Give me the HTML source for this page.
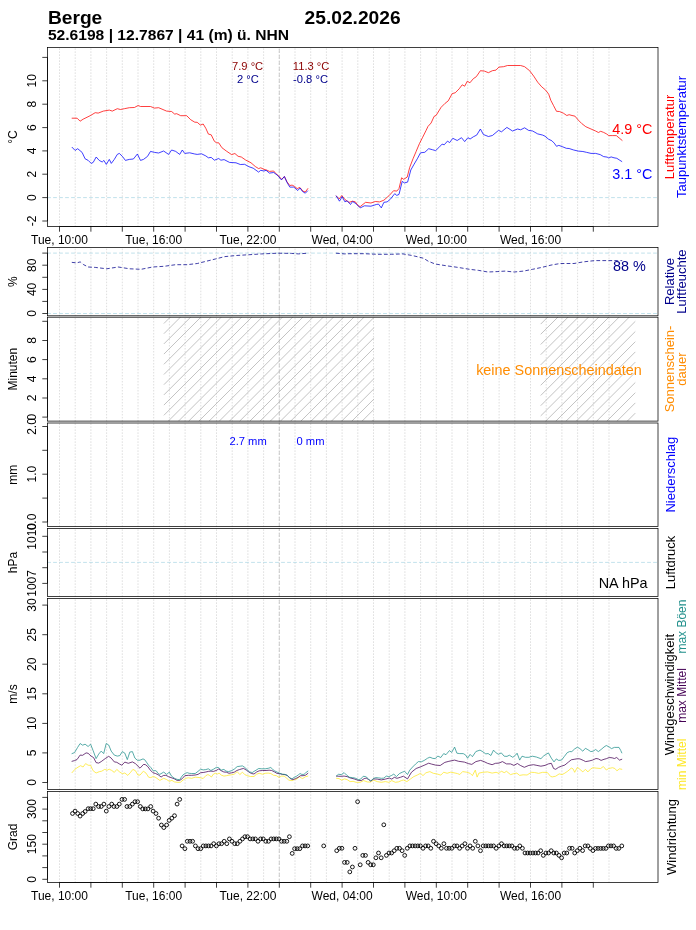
<!DOCTYPE html>
<html><head><meta charset="utf-8"><title>Berge</title>
<style>
html,body{margin:0;padding:0;background:#fff;}
body{width:696px;height:930px;overflow:hidden;}
svg{display:block;will-change:transform;}
text{font-family:"Liberation Sans",sans-serif;}
.g{stroke:#D3D3D3;stroke-width:0.75;stroke-dasharray:0.75 2.25;stroke-linecap:round;}
.m{stroke:#BEBEBE;stroke-width:0.75;stroke-dasharray:3 3;stroke-linecap:round;}
.r{stroke:#ADD8E6;stroke-width:0.75;stroke-dasharray:3 3;stroke-linecap:round;}
</style></head><body>
<svg width="696" height="930" viewBox="0 0 696 930">
<rect width="696" height="930" fill="#fff"/>
<line x1="59.5" y1="226.5" x2="59.5" y2="47.5" class="g"/>
<line x1="75.2" y1="226.5" x2="75.2" y2="47.5" class="g"/>
<line x1="90.9" y1="226.5" x2="90.9" y2="47.5" class="g"/>
<line x1="106.6" y1="226.5" x2="106.6" y2="47.5" class="g"/>
<line x1="122.3" y1="226.5" x2="122.3" y2="47.5" class="g"/>
<line x1="138" y1="226.5" x2="138" y2="47.5" class="g"/>
<line x1="153.7" y1="226.5" x2="153.7" y2="47.5" class="g"/>
<line x1="169.4" y1="226.5" x2="169.4" y2="47.5" class="g"/>
<line x1="185.1" y1="226.5" x2="185.1" y2="47.5" class="g"/>
<line x1="200.8" y1="226.5" x2="200.8" y2="47.5" class="g"/>
<line x1="216.5" y1="226.5" x2="216.5" y2="47.5" class="g"/>
<line x1="232.2" y1="226.5" x2="232.2" y2="47.5" class="g"/>
<line x1="247.9" y1="226.5" x2="247.9" y2="47.5" class="g"/>
<line x1="263.6" y1="226.5" x2="263.6" y2="47.5" class="g"/>
<line x1="279.3" y1="226.5" x2="279.3" y2="47.5" class="g"/>
<line x1="295" y1="226.5" x2="295" y2="47.5" class="g"/>
<line x1="310.7" y1="226.5" x2="310.7" y2="47.5" class="g"/>
<line x1="326.4" y1="226.5" x2="326.4" y2="47.5" class="g"/>
<line x1="342.1" y1="226.5" x2="342.1" y2="47.5" class="g"/>
<line x1="357.8" y1="226.5" x2="357.8" y2="47.5" class="g"/>
<line x1="373.5" y1="226.5" x2="373.5" y2="47.5" class="g"/>
<line x1="389.2" y1="226.5" x2="389.2" y2="47.5" class="g"/>
<line x1="404.9" y1="226.5" x2="404.9" y2="47.5" class="g"/>
<line x1="420.6" y1="226.5" x2="420.6" y2="47.5" class="g"/>
<line x1="436.3" y1="226.5" x2="436.3" y2="47.5" class="g"/>
<line x1="452" y1="226.5" x2="452" y2="47.5" class="g"/>
<line x1="467.7" y1="226.5" x2="467.7" y2="47.5" class="g"/>
<line x1="483.4" y1="226.5" x2="483.4" y2="47.5" class="g"/>
<line x1="499.1" y1="226.5" x2="499.1" y2="47.5" class="g"/>
<line x1="514.8" y1="226.5" x2="514.8" y2="47.5" class="g"/>
<line x1="530.5" y1="226.5" x2="530.5" y2="47.5" class="g"/>
<line x1="546.2" y1="226.5" x2="546.2" y2="47.5" class="g"/>
<line x1="561.9" y1="226.5" x2="561.9" y2="47.5" class="g"/>
<line x1="577.6" y1="226.5" x2="577.6" y2="47.5" class="g"/>
<line x1="593.3" y1="226.5" x2="593.3" y2="47.5" class="g"/>
<line x1="609" y1="226.5" x2="609" y2="47.5" class="g"/>
<line x1="279.3" y1="226.5" x2="279.3" y2="47.5" class="m"/>
<line x1="59.5" y1="315.8" x2="59.5" y2="247.5" class="g"/>
<line x1="75.2" y1="315.8" x2="75.2" y2="247.5" class="g"/>
<line x1="90.9" y1="315.8" x2="90.9" y2="247.5" class="g"/>
<line x1="106.6" y1="315.8" x2="106.6" y2="247.5" class="g"/>
<line x1="122.3" y1="315.8" x2="122.3" y2="247.5" class="g"/>
<line x1="138" y1="315.8" x2="138" y2="247.5" class="g"/>
<line x1="153.7" y1="315.8" x2="153.7" y2="247.5" class="g"/>
<line x1="169.4" y1="315.8" x2="169.4" y2="247.5" class="g"/>
<line x1="185.1" y1="315.8" x2="185.1" y2="247.5" class="g"/>
<line x1="200.8" y1="315.8" x2="200.8" y2="247.5" class="g"/>
<line x1="216.5" y1="315.8" x2="216.5" y2="247.5" class="g"/>
<line x1="232.2" y1="315.8" x2="232.2" y2="247.5" class="g"/>
<line x1="247.9" y1="315.8" x2="247.9" y2="247.5" class="g"/>
<line x1="263.6" y1="315.8" x2="263.6" y2="247.5" class="g"/>
<line x1="279.3" y1="315.8" x2="279.3" y2="247.5" class="g"/>
<line x1="295" y1="315.8" x2="295" y2="247.5" class="g"/>
<line x1="310.7" y1="315.8" x2="310.7" y2="247.5" class="g"/>
<line x1="326.4" y1="315.8" x2="326.4" y2="247.5" class="g"/>
<line x1="342.1" y1="315.8" x2="342.1" y2="247.5" class="g"/>
<line x1="357.8" y1="315.8" x2="357.8" y2="247.5" class="g"/>
<line x1="373.5" y1="315.8" x2="373.5" y2="247.5" class="g"/>
<line x1="389.2" y1="315.8" x2="389.2" y2="247.5" class="g"/>
<line x1="404.9" y1="315.8" x2="404.9" y2="247.5" class="g"/>
<line x1="420.6" y1="315.8" x2="420.6" y2="247.5" class="g"/>
<line x1="436.3" y1="315.8" x2="436.3" y2="247.5" class="g"/>
<line x1="452" y1="315.8" x2="452" y2="247.5" class="g"/>
<line x1="467.7" y1="315.8" x2="467.7" y2="247.5" class="g"/>
<line x1="483.4" y1="315.8" x2="483.4" y2="247.5" class="g"/>
<line x1="499.1" y1="315.8" x2="499.1" y2="247.5" class="g"/>
<line x1="514.8" y1="315.8" x2="514.8" y2="247.5" class="g"/>
<line x1="530.5" y1="315.8" x2="530.5" y2="247.5" class="g"/>
<line x1="546.2" y1="315.8" x2="546.2" y2="247.5" class="g"/>
<line x1="561.9" y1="315.8" x2="561.9" y2="247.5" class="g"/>
<line x1="577.6" y1="315.8" x2="577.6" y2="247.5" class="g"/>
<line x1="593.3" y1="315.8" x2="593.3" y2="247.5" class="g"/>
<line x1="609" y1="315.8" x2="609" y2="247.5" class="g"/>
<line x1="279.3" y1="315.8" x2="279.3" y2="247.5" class="m"/>
<line x1="59.5" y1="421.1" x2="59.5" y2="317.2" class="g"/>
<line x1="75.2" y1="421.1" x2="75.2" y2="317.2" class="g"/>
<line x1="90.9" y1="421.1" x2="90.9" y2="317.2" class="g"/>
<line x1="106.6" y1="421.1" x2="106.6" y2="317.2" class="g"/>
<line x1="122.3" y1="421.1" x2="122.3" y2="317.2" class="g"/>
<line x1="138" y1="421.1" x2="138" y2="317.2" class="g"/>
<line x1="153.7" y1="421.1" x2="153.7" y2="317.2" class="g"/>
<line x1="169.4" y1="421.1" x2="169.4" y2="317.2" class="g"/>
<line x1="185.1" y1="421.1" x2="185.1" y2="317.2" class="g"/>
<line x1="200.8" y1="421.1" x2="200.8" y2="317.2" class="g"/>
<line x1="216.5" y1="421.1" x2="216.5" y2="317.2" class="g"/>
<line x1="232.2" y1="421.1" x2="232.2" y2="317.2" class="g"/>
<line x1="247.9" y1="421.1" x2="247.9" y2="317.2" class="g"/>
<line x1="263.6" y1="421.1" x2="263.6" y2="317.2" class="g"/>
<line x1="279.3" y1="421.1" x2="279.3" y2="317.2" class="g"/>
<line x1="295" y1="421.1" x2="295" y2="317.2" class="g"/>
<line x1="310.7" y1="421.1" x2="310.7" y2="317.2" class="g"/>
<line x1="326.4" y1="421.1" x2="326.4" y2="317.2" class="g"/>
<line x1="342.1" y1="421.1" x2="342.1" y2="317.2" class="g"/>
<line x1="357.8" y1="421.1" x2="357.8" y2="317.2" class="g"/>
<line x1="373.5" y1="421.1" x2="373.5" y2="317.2" class="g"/>
<line x1="389.2" y1="421.1" x2="389.2" y2="317.2" class="g"/>
<line x1="404.9" y1="421.1" x2="404.9" y2="317.2" class="g"/>
<line x1="420.6" y1="421.1" x2="420.6" y2="317.2" class="g"/>
<line x1="436.3" y1="421.1" x2="436.3" y2="317.2" class="g"/>
<line x1="452" y1="421.1" x2="452" y2="317.2" class="g"/>
<line x1="467.7" y1="421.1" x2="467.7" y2="317.2" class="g"/>
<line x1="483.4" y1="421.1" x2="483.4" y2="317.2" class="g"/>
<line x1="499.1" y1="421.1" x2="499.1" y2="317.2" class="g"/>
<line x1="514.8" y1="421.1" x2="514.8" y2="317.2" class="g"/>
<line x1="530.5" y1="421.1" x2="530.5" y2="317.2" class="g"/>
<line x1="546.2" y1="421.1" x2="546.2" y2="317.2" class="g"/>
<line x1="561.9" y1="421.1" x2="561.9" y2="317.2" class="g"/>
<line x1="577.6" y1="421.1" x2="577.6" y2="317.2" class="g"/>
<line x1="593.3" y1="421.1" x2="593.3" y2="317.2" class="g"/>
<line x1="609" y1="421.1" x2="609" y2="317.2" class="g"/>
<line x1="279.3" y1="421.1" x2="279.3" y2="317.2" class="m"/>
<line x1="59.5" y1="526.5" x2="59.5" y2="423" class="g"/>
<line x1="75.2" y1="526.5" x2="75.2" y2="423" class="g"/>
<line x1="90.9" y1="526.5" x2="90.9" y2="423" class="g"/>
<line x1="106.6" y1="526.5" x2="106.6" y2="423" class="g"/>
<line x1="122.3" y1="526.5" x2="122.3" y2="423" class="g"/>
<line x1="138" y1="526.5" x2="138" y2="423" class="g"/>
<line x1="153.7" y1="526.5" x2="153.7" y2="423" class="g"/>
<line x1="169.4" y1="526.5" x2="169.4" y2="423" class="g"/>
<line x1="185.1" y1="526.5" x2="185.1" y2="423" class="g"/>
<line x1="200.8" y1="526.5" x2="200.8" y2="423" class="g"/>
<line x1="216.5" y1="526.5" x2="216.5" y2="423" class="g"/>
<line x1="232.2" y1="526.5" x2="232.2" y2="423" class="g"/>
<line x1="247.9" y1="526.5" x2="247.9" y2="423" class="g"/>
<line x1="263.6" y1="526.5" x2="263.6" y2="423" class="g"/>
<line x1="279.3" y1="526.5" x2="279.3" y2="423" class="g"/>
<line x1="295" y1="526.5" x2="295" y2="423" class="g"/>
<line x1="310.7" y1="526.5" x2="310.7" y2="423" class="g"/>
<line x1="326.4" y1="526.5" x2="326.4" y2="423" class="g"/>
<line x1="342.1" y1="526.5" x2="342.1" y2="423" class="g"/>
<line x1="357.8" y1="526.5" x2="357.8" y2="423" class="g"/>
<line x1="373.5" y1="526.5" x2="373.5" y2="423" class="g"/>
<line x1="389.2" y1="526.5" x2="389.2" y2="423" class="g"/>
<line x1="404.9" y1="526.5" x2="404.9" y2="423" class="g"/>
<line x1="420.6" y1="526.5" x2="420.6" y2="423" class="g"/>
<line x1="436.3" y1="526.5" x2="436.3" y2="423" class="g"/>
<line x1="452" y1="526.5" x2="452" y2="423" class="g"/>
<line x1="467.7" y1="526.5" x2="467.7" y2="423" class="g"/>
<line x1="483.4" y1="526.5" x2="483.4" y2="423" class="g"/>
<line x1="499.1" y1="526.5" x2="499.1" y2="423" class="g"/>
<line x1="514.8" y1="526.5" x2="514.8" y2="423" class="g"/>
<line x1="530.5" y1="526.5" x2="530.5" y2="423" class="g"/>
<line x1="546.2" y1="526.5" x2="546.2" y2="423" class="g"/>
<line x1="561.9" y1="526.5" x2="561.9" y2="423" class="g"/>
<line x1="577.6" y1="526.5" x2="577.6" y2="423" class="g"/>
<line x1="593.3" y1="526.5" x2="593.3" y2="423" class="g"/>
<line x1="609" y1="526.5" x2="609" y2="423" class="g"/>
<line x1="279.3" y1="526.5" x2="279.3" y2="423" class="m"/>
<line x1="59.5" y1="596.5" x2="59.5" y2="528.5" class="g"/>
<line x1="75.2" y1="596.5" x2="75.2" y2="528.5" class="g"/>
<line x1="90.9" y1="596.5" x2="90.9" y2="528.5" class="g"/>
<line x1="106.6" y1="596.5" x2="106.6" y2="528.5" class="g"/>
<line x1="122.3" y1="596.5" x2="122.3" y2="528.5" class="g"/>
<line x1="138" y1="596.5" x2="138" y2="528.5" class="g"/>
<line x1="153.7" y1="596.5" x2="153.7" y2="528.5" class="g"/>
<line x1="169.4" y1="596.5" x2="169.4" y2="528.5" class="g"/>
<line x1="185.1" y1="596.5" x2="185.1" y2="528.5" class="g"/>
<line x1="200.8" y1="596.5" x2="200.8" y2="528.5" class="g"/>
<line x1="216.5" y1="596.5" x2="216.5" y2="528.5" class="g"/>
<line x1="232.2" y1="596.5" x2="232.2" y2="528.5" class="g"/>
<line x1="247.9" y1="596.5" x2="247.9" y2="528.5" class="g"/>
<line x1="263.6" y1="596.5" x2="263.6" y2="528.5" class="g"/>
<line x1="279.3" y1="596.5" x2="279.3" y2="528.5" class="g"/>
<line x1="295" y1="596.5" x2="295" y2="528.5" class="g"/>
<line x1="310.7" y1="596.5" x2="310.7" y2="528.5" class="g"/>
<line x1="326.4" y1="596.5" x2="326.4" y2="528.5" class="g"/>
<line x1="342.1" y1="596.5" x2="342.1" y2="528.5" class="g"/>
<line x1="357.8" y1="596.5" x2="357.8" y2="528.5" class="g"/>
<line x1="373.5" y1="596.5" x2="373.5" y2="528.5" class="g"/>
<line x1="389.2" y1="596.5" x2="389.2" y2="528.5" class="g"/>
<line x1="404.9" y1="596.5" x2="404.9" y2="528.5" class="g"/>
<line x1="420.6" y1="596.5" x2="420.6" y2="528.5" class="g"/>
<line x1="436.3" y1="596.5" x2="436.3" y2="528.5" class="g"/>
<line x1="452" y1="596.5" x2="452" y2="528.5" class="g"/>
<line x1="467.7" y1="596.5" x2="467.7" y2="528.5" class="g"/>
<line x1="483.4" y1="596.5" x2="483.4" y2="528.5" class="g"/>
<line x1="499.1" y1="596.5" x2="499.1" y2="528.5" class="g"/>
<line x1="514.8" y1="596.5" x2="514.8" y2="528.5" class="g"/>
<line x1="530.5" y1="596.5" x2="530.5" y2="528.5" class="g"/>
<line x1="546.2" y1="596.5" x2="546.2" y2="528.5" class="g"/>
<line x1="561.9" y1="596.5" x2="561.9" y2="528.5" class="g"/>
<line x1="577.6" y1="596.5" x2="577.6" y2="528.5" class="g"/>
<line x1="593.3" y1="596.5" x2="593.3" y2="528.5" class="g"/>
<line x1="609" y1="596.5" x2="609" y2="528.5" class="g"/>
<line x1="279.3" y1="596.5" x2="279.3" y2="528.5" class="m"/>
<line x1="59.5" y1="789.5" x2="59.5" y2="598.5" class="g"/>
<line x1="75.2" y1="789.5" x2="75.2" y2="598.5" class="g"/>
<line x1="90.9" y1="789.5" x2="90.9" y2="598.5" class="g"/>
<line x1="106.6" y1="789.5" x2="106.6" y2="598.5" class="g"/>
<line x1="122.3" y1="789.5" x2="122.3" y2="598.5" class="g"/>
<line x1="138" y1="789.5" x2="138" y2="598.5" class="g"/>
<line x1="153.7" y1="789.5" x2="153.7" y2="598.5" class="g"/>
<line x1="169.4" y1="789.5" x2="169.4" y2="598.5" class="g"/>
<line x1="185.1" y1="789.5" x2="185.1" y2="598.5" class="g"/>
<line x1="200.8" y1="789.5" x2="200.8" y2="598.5" class="g"/>
<line x1="216.5" y1="789.5" x2="216.5" y2="598.5" class="g"/>
<line x1="232.2" y1="789.5" x2="232.2" y2="598.5" class="g"/>
<line x1="247.9" y1="789.5" x2="247.9" y2="598.5" class="g"/>
<line x1="263.6" y1="789.5" x2="263.6" y2="598.5" class="g"/>
<line x1="279.3" y1="789.5" x2="279.3" y2="598.5" class="g"/>
<line x1="295" y1="789.5" x2="295" y2="598.5" class="g"/>
<line x1="310.7" y1="789.5" x2="310.7" y2="598.5" class="g"/>
<line x1="326.4" y1="789.5" x2="326.4" y2="598.5" class="g"/>
<line x1="342.1" y1="789.5" x2="342.1" y2="598.5" class="g"/>
<line x1="357.8" y1="789.5" x2="357.8" y2="598.5" class="g"/>
<line x1="373.5" y1="789.5" x2="373.5" y2="598.5" class="g"/>
<line x1="389.2" y1="789.5" x2="389.2" y2="598.5" class="g"/>
<line x1="404.9" y1="789.5" x2="404.9" y2="598.5" class="g"/>
<line x1="420.6" y1="789.5" x2="420.6" y2="598.5" class="g"/>
<line x1="436.3" y1="789.5" x2="436.3" y2="598.5" class="g"/>
<line x1="452" y1="789.5" x2="452" y2="598.5" class="g"/>
<line x1="467.7" y1="789.5" x2="467.7" y2="598.5" class="g"/>
<line x1="483.4" y1="789.5" x2="483.4" y2="598.5" class="g"/>
<line x1="499.1" y1="789.5" x2="499.1" y2="598.5" class="g"/>
<line x1="514.8" y1="789.5" x2="514.8" y2="598.5" class="g"/>
<line x1="530.5" y1="789.5" x2="530.5" y2="598.5" class="g"/>
<line x1="546.2" y1="789.5" x2="546.2" y2="598.5" class="g"/>
<line x1="561.9" y1="789.5" x2="561.9" y2="598.5" class="g"/>
<line x1="577.6" y1="789.5" x2="577.6" y2="598.5" class="g"/>
<line x1="593.3" y1="789.5" x2="593.3" y2="598.5" class="g"/>
<line x1="609" y1="789.5" x2="609" y2="598.5" class="g"/>
<line x1="279.3" y1="789.5" x2="279.3" y2="598.5" class="m"/>
<line x1="59.5" y1="882.5" x2="59.5" y2="791.5" class="g"/>
<line x1="75.2" y1="882.5" x2="75.2" y2="791.5" class="g"/>
<line x1="90.9" y1="882.5" x2="90.9" y2="791.5" class="g"/>
<line x1="106.6" y1="882.5" x2="106.6" y2="791.5" class="g"/>
<line x1="122.3" y1="882.5" x2="122.3" y2="791.5" class="g"/>
<line x1="138" y1="882.5" x2="138" y2="791.5" class="g"/>
<line x1="153.7" y1="882.5" x2="153.7" y2="791.5" class="g"/>
<line x1="169.4" y1="882.5" x2="169.4" y2="791.5" class="g"/>
<line x1="185.1" y1="882.5" x2="185.1" y2="791.5" class="g"/>
<line x1="200.8" y1="882.5" x2="200.8" y2="791.5" class="g"/>
<line x1="216.5" y1="882.5" x2="216.5" y2="791.5" class="g"/>
<line x1="232.2" y1="882.5" x2="232.2" y2="791.5" class="g"/>
<line x1="247.9" y1="882.5" x2="247.9" y2="791.5" class="g"/>
<line x1="263.6" y1="882.5" x2="263.6" y2="791.5" class="g"/>
<line x1="279.3" y1="882.5" x2="279.3" y2="791.5" class="g"/>
<line x1="295" y1="882.5" x2="295" y2="791.5" class="g"/>
<line x1="310.7" y1="882.5" x2="310.7" y2="791.5" class="g"/>
<line x1="326.4" y1="882.5" x2="326.4" y2="791.5" class="g"/>
<line x1="342.1" y1="882.5" x2="342.1" y2="791.5" class="g"/>
<line x1="357.8" y1="882.5" x2="357.8" y2="791.5" class="g"/>
<line x1="373.5" y1="882.5" x2="373.5" y2="791.5" class="g"/>
<line x1="389.2" y1="882.5" x2="389.2" y2="791.5" class="g"/>
<line x1="404.9" y1="882.5" x2="404.9" y2="791.5" class="g"/>
<line x1="420.6" y1="882.5" x2="420.6" y2="791.5" class="g"/>
<line x1="436.3" y1="882.5" x2="436.3" y2="791.5" class="g"/>
<line x1="452" y1="882.5" x2="452" y2="791.5" class="g"/>
<line x1="467.7" y1="882.5" x2="467.7" y2="791.5" class="g"/>
<line x1="483.4" y1="882.5" x2="483.4" y2="791.5" class="g"/>
<line x1="499.1" y1="882.5" x2="499.1" y2="791.5" class="g"/>
<line x1="514.8" y1="882.5" x2="514.8" y2="791.5" class="g"/>
<line x1="530.5" y1="882.5" x2="530.5" y2="791.5" class="g"/>
<line x1="546.2" y1="882.5" x2="546.2" y2="791.5" class="g"/>
<line x1="561.9" y1="882.5" x2="561.9" y2="791.5" class="g"/>
<line x1="577.6" y1="882.5" x2="577.6" y2="791.5" class="g"/>
<line x1="593.3" y1="882.5" x2="593.3" y2="791.5" class="g"/>
<line x1="609" y1="882.5" x2="609" y2="791.5" class="g"/>
<line x1="279.3" y1="882.5" x2="279.3" y2="791.5" class="m"/>
<line x1="47.5" y1="197.6" x2="658.0" y2="197.6" class="r"/>
<line x1="47.5" y1="253.1" x2="658.0" y2="253.1" class="r"/>
<line x1="47.5" y1="313.5" x2="658.0" y2="313.5" class="r"/>
<line x1="47.5" y1="562.4" x2="658.0" y2="562.4" class="r"/>
<g stroke="#B4B4B4" stroke-width="0.8" fill="none">
<line x1="163.9" y1="323.5" x2="170.2" y2="317.2"/>
<line x1="163.9" y1="333.7" x2="180.4" y2="317.2"/>
<line x1="163.9" y1="343.9" x2="190.6" y2="317.2"/>
<line x1="163.9" y1="354.1" x2="200.8" y2="317.2"/>
<line x1="163.9" y1="364.3" x2="211" y2="317.2"/>
<line x1="163.9" y1="374.5" x2="221.2" y2="317.2"/>
<line x1="163.9" y1="384.7" x2="231.4" y2="317.2"/>
<line x1="163.9" y1="394.9" x2="241.6" y2="317.2"/>
<line x1="163.9" y1="405.1" x2="251.8" y2="317.2"/>
<line x1="163.9" y1="415.3" x2="262" y2="317.2"/>
<line x1="168.3" y1="421.1" x2="272.2" y2="317.2"/>
<line x1="178.5" y1="421.1" x2="282.4" y2="317.2"/>
<line x1="188.7" y1="421.1" x2="292.6" y2="317.2"/>
<line x1="198.9" y1="421.1" x2="302.8" y2="317.2"/>
<line x1="209.1" y1="421.1" x2="313" y2="317.2"/>
<line x1="219.3" y1="421.1" x2="323.2" y2="317.2"/>
<line x1="229.5" y1="421.1" x2="333.4" y2="317.2"/>
<line x1="239.7" y1="421.1" x2="343.6" y2="317.2"/>
<line x1="249.9" y1="421.1" x2="353.8" y2="317.2"/>
<line x1="260.1" y1="421.1" x2="364" y2="317.2"/>
<line x1="270.3" y1="421.1" x2="373.9" y2="317.5"/>
<line x1="280.5" y1="421.1" x2="373.9" y2="327.7"/>
<line x1="290.7" y1="421.1" x2="373.9" y2="337.9"/>
<line x1="300.9" y1="421.1" x2="373.9" y2="348.1"/>
<line x1="311.1" y1="421.1" x2="373.9" y2="358.3"/>
<line x1="321.3" y1="421.1" x2="373.9" y2="368.5"/>
<line x1="331.5" y1="421.1" x2="373.9" y2="378.7"/>
<line x1="341.7" y1="421.1" x2="373.9" y2="388.9"/>
<line x1="351.9" y1="421.1" x2="373.9" y2="399.1"/>
<line x1="362.1" y1="421.1" x2="373.9" y2="409.3"/>
<line x1="372.3" y1="421.1" x2="373.9" y2="419.5"/>
<line x1="540.7" y1="324.1" x2="547.6" y2="317.2"/>
<line x1="540.7" y1="334.3" x2="557.8" y2="317.2"/>
<line x1="540.7" y1="344.5" x2="568" y2="317.2"/>
<line x1="540.7" y1="354.7" x2="578.2" y2="317.2"/>
<line x1="540.7" y1="364.9" x2="588.4" y2="317.2"/>
<line x1="540.7" y1="375.1" x2="598.6" y2="317.2"/>
<line x1="540.7" y1="385.3" x2="608.8" y2="317.2"/>
<line x1="540.7" y1="395.5" x2="619" y2="317.2"/>
<line x1="540.7" y1="405.7" x2="629.2" y2="317.2"/>
<line x1="540.7" y1="415.9" x2="635.3" y2="321.3"/>
<line x1="545.7" y1="421.1" x2="635.3" y2="331.5"/>
<line x1="555.9" y1="421.1" x2="635.3" y2="341.7"/>
<line x1="566.1" y1="421.1" x2="635.3" y2="351.9"/>
<line x1="576.3" y1="421.1" x2="635.3" y2="362.1"/>
<line x1="586.5" y1="421.1" x2="635.3" y2="372.3"/>
<line x1="596.7" y1="421.1" x2="635.3" y2="382.5"/>
<line x1="606.9" y1="421.1" x2="635.3" y2="392.7"/>
<line x1="617.1" y1="421.1" x2="635.3" y2="402.9"/>
<line x1="627.3" y1="421.1" x2="635.3" y2="413.1"/>
</g>
<path d="M72.1 118.2 L77.1 118.2 L80.1 121.2 L83.1 119.2 L90.2 115.7 L95.2 112.7 L98.2 113.1 L103.3 111.1 L109.3 110.1 L112.3 111.1 L117.3 108.7 L120.4 109.5 L124.4 108.7 L129.4 107.7 L134.4 107.5 L138.1 105.5 L140.5 106.5 L150.5 106.5 L154.5 108.1 L158.6 107.7 L166.6 111.1 L171.6 111.5 L174.7 114.1 L176.7 113.7 L180.7 115.7 L186.7 115.7 L190.8 119.8 L194.8 122.2 L197.2 122.3 L200.4 125.1 L203.2 124 L205.8 128.3 L208.4 134.1 L211.2 134.8 L214.4 141.3 L216.6 142.8 L218.7 142.8 L221.9 147.7 L226.3 151 L231.6 154.6 L234.9 153.5 L238.1 156.3 L241.3 157 L245.6 160 L251 162.8 L255.3 166.5 L258.6 168.6 L260.7 167.8 L264 169.3 L267.2 170.3 L269.4 171.4 L273.7 171 L275.8 173.6 L279.1 176.4 L281.7 179.4 L284.4 176.5 L286.9 181.7 L289.8 185.5 L292.1 185.1 L294.4 186.3 L297.2 188.6 L299.8 187.4 L303 191.2 L305.3 192 L307.8 188.6" fill="none" stroke="#FF0000" stroke-width="0.75" stroke-linejoin="round" stroke-linecap="round" />
<path d="M336.3 196 L339.2 198.9 L341.8 195.5 L344.9 199.5 L349 202.4 L352.4 201.2 L355.3 201.8 L358.2 205.8 L360.2 206.6 L365.6 202.3 L370.9 203 L375.3 201.5 L379.6 201.9 L383.9 200.2 L389.3 195.4 L393.6 190.7 L396.8 191.1 L399 188.5 L401.6 177.8 L403.7 179.3 L407.2 177.1 L409.7 167.4 L413 158.8 L416.2 151.3 L419.4 143.7 L422.7 137.2 L425.9 130.8 L428 126.4 L431.1 123 L434.1 116.4 L436.1 115.4 L441.1 107.3 L445.1 103.3 L448.2 100.9 L452.2 93.6 L455.2 92.8 L459.2 88.8 L462.2 84.8 L464.7 86.2 L467.3 81.2 L469.9 82.8 L473.3 78.7 L476.3 76.7 L480.4 70.7 L484.4 71.1 L488.4 72.7 L492.4 70.7 L496 70.1 L498.9 67.1 L503.5 66.7 L507.5 65.5 L520.6 65.5 L524.6 66.7 L529.6 70.7 L533.7 76.1 L537.7 82.2 L541.7 86.8 L545.7 90.2 L548.7 94.2 L550.8 100.3 L553.6 105.7 L556.5 111.3 L559.4 111.5 L563.4 113.2 L566.8 115.5 L569.1 114.7 L572 115.5 L574.9 116.1 L578.3 120.1 L581.8 123.6 L585.8 126.7 L591 129 L595.6 131 L598.4 132.5 L600.7 131.3 L603.6 132.4 L606.5 133.9 L608.8 135.6 L612.8 135.6 L616.3 135.6 L619.1 137.9 L622.1 140.4" fill="none" stroke="#FF0000" stroke-width="0.75" stroke-linejoin="round" stroke-linecap="round" />
<path d="M72.1 147.3 L75.1 150.4 L77.7 148.7 L82.1 152.4 L85.1 158.8 L88.2 160.4 L91.2 163.4 L93.2 162.4 L96.2 157 L99.2 160.4 L102.2 162 L103.9 160.4 L106.3 164.4 L109.3 159.4 L111.3 163.4 L114.3 159.4 L117.3 154.4 L119.3 153.4 L122.4 156.4 L125.4 160.4 L129.4 159.4 L133.4 159 L137.4 154 L140.5 160.4 L143.5 159.4 L147.5 156.4 L150.5 151.4 L154.5 152.4 L158.6 153 L163.6 151 L168.6 154.4 L171.6 150 L175.7 151.4 L179.7 154.4 L182.3 150 L184.7 153.4 L189.7 152.8 L194.8 154 L197.2 154.4 L201.5 153.8 L205.8 155.9 L208.4 157.8 L211.2 157.4 L214.4 160.2 L218.7 158.5 L220.9 160.2 L224.1 159.6 L229.5 162.4 L236 162.8 L240.3 164.5 L244.6 164.3 L248.9 166.7 L253.2 168.2 L258.6 172.1 L260.7 170.3 L264 171 L266.1 170.3 L269.4 173.1 L273.7 172.5 L278 175.7 L281.4 179.9 L284.4 176.5 L286.9 182.2 L289.8 187.1 L293.8 187.1 L297.8 190.5 L300.1 188 L302.4 191.4 L305.3 193.2 L307.6 190.9" fill="none" stroke="#0000FF" stroke-width="0.75" stroke-linejoin="round" stroke-linecap="round" />
<path d="M336.3 196 L339.5 201.2 L342.1 196.6 L344.9 201.8 L347.2 200.8 L350.5 204.5 L352.6 201.5 L355.9 203.6 L360.2 207.9 L364.5 205.8 L370.9 206.2 L376.3 204.5 L378.5 204.1 L381.3 207.9 L383.9 202.3 L387.1 201.9 L390.3 199.3 L394.7 193.7 L396.8 195.4 L399 194.4 L402.2 181.4 L404.4 182.9 L407.6 182.1 L410.8 170 L414.1 164.2 L417.3 158.8 L420.5 152.8 L424.8 152.3 L428.7 148.7 L432.4 149.7 L435.6 150.6 L438.8 147.6 L442.1 144.1 L444.2 144.8 L447.5 141.1 L449.6 142.6 L452.8 138.3 L457.2 140.5 L461.5 137.7 L464.7 141.6 L467.9 137.7 L470.1 139 L473.3 136.8 L476.7 135.1 L480.4 129 L483.4 134.5 L488.4 136.5 L492.4 135.5 L498.5 130.4 L501.5 131.8 L506.9 127.4 L512.5 131 L517.6 129 L520.6 129.8 L524.6 127.8 L528.6 130.4 L532.7 131 L537.7 133.9 L542.7 135.1 L545 136.2 L548.4 139.1 L551.9 140.8 L554.2 143.1 L556.5 146.3 L558.8 145.4 L562.2 146.6 L566.3 148.3 L569.1 148.5 L573.7 150 L578.3 151.1 L582.9 151.5 L586.4 152.3 L591 153.4 L595.6 153.4 L600.2 154.6 L603.6 156.6 L607.1 157.1 L608.8 158 L611.1 156.9 L614 157.8 L616.8 158.3 L619.1 159.8 L621.8 161.5" fill="none" stroke="#0000FF" stroke-width="0.75" stroke-linejoin="round" stroke-linecap="round" />
<path d="M72.2 262.4 L76.8 262.9 L80.2 261.9 L83.7 264.7 L88.3 267 L95.2 267.4 L106.7 268.8 L118.2 267 L129.7 268.8 L141.1 269.3 L152.6 267 L164.1 266.3 L175.6 264.7 L187.1 264.7 L197.3 263.5 L206.5 261.2 L215.7 258.9 L224.9 256.6 L236.4 255.5 L247.9 254.8 L261.7 253.9 L277.8 253.2 L291.6 253.4 L298.4 253.9 L307.6 253.2" fill="none" stroke="#00008B" stroke-width="0.75" stroke-linejoin="round" stroke-linecap="round" stroke-dasharray="3 3"/>
<path d="M336.4 253.2 L344.4 253.9 L350 253.7 L363.8 253.7 L377.6 254.3 L391.4 254.3 L402.9 253.9 L412.1 255.5 L419 257.1 L423.6 258.3 L428.2 261.2 L435.1 264 L446.6 265.8 L458 267.4 L469.5 269.3 L478.7 270.4 L487.9 272 L497.1 271.6 L505 271.1 L514.2 272 L523.4 271.1 L532.6 269.3 L541.8 267.4 L551 265.1 L560.2 263.5 L574 263.5 L583.2 261.9 L594.7 260.6 L606.1 260.6 L617.6 260.6 L621.8 260.6" fill="none" stroke="#00008B" stroke-width="0.75" stroke-linejoin="round" stroke-linecap="round" stroke-dasharray="3 3"/>
<path d="M72 772.7 L75 769.2 L78 767.2 L80.6 765.7 L83.1 767 L85.6 763.6 L88.1 765.2 L90.6 765.4 L93.1 770.7 L96.1 773 L99.2 771.7 L101.7 771.2 L104.7 769.4 L107.2 770.2 L109.2 769.2 L111.7 770.4 L114.3 772.4 L116.8 769.4 L119.3 771.7 L122.3 773.7 L124.8 773 L127.8 775.4 L130.3 772.7 L132.9 769.4 L135.4 770.7 L137.9 775 L140 775.1 L143.4 771.2 L146 773.1 L148.6 777.2 L150.8 777.6 L153.4 776.4 L155.9 777.6 L159.8 780.4 L163.7 778.3 L166.7 779.6 L169.3 781.3 L171.9 780.4 L174.5 781.9 L177.9 782.4 L180.5 782.2 L183.1 780 L185.7 778.3 L188.3 777.8 L191.7 778.3 L195.2 777.2 L198 777.4 L200.6 777.8 L203.2 778.5 L205.8 775.7 L207.9 774.6 L209.2 775.2 L211.4 777 L213.5 774 L215.7 773.3 L217.4 774 L219.1 773.1 L221.3 775.1 L223.9 776.1 L226.4 775.7 L229 775.1 L231.6 774.8 L234.2 774.2 L237.2 771.6 L239.8 774.6 L242.4 772.2 L245 774.8 L247.6 775.7 L250.6 776.5 L254 776.5 L256.6 774.2 L259.2 773.3 L262.6 774.2 L265.2 773.3 L268.2 773.1 L270.8 773.5 L273.4 775.2 L276.4 775.7 L279 777.4 L281.6 776.1 L284.2 776.1 L286.8 778.3 L288.9 780.2 L291.9 780.6 L294.5 779.6 L297.1 778.9 L299.3 776.8 L301.4 778 L302.7 778.5 L305.3 776.8 L307.9 776.1" fill="none" stroke="#FDE725" stroke-width="0.75" stroke-linejoin="round" stroke-linecap="round" />
<path d="M336.5 778.3 L339 778.6 L341.5 780.1 L344.6 778.9 L347.1 779.6 L350.1 781.6 L353.1 781.3 L356.1 782.3 L360.1 782.3 L363.7 780.6 L367.2 781.9 L370.2 782.1 L373.7 780.1 L377.2 781.6 L381.3 782.3 L385.3 781.6 L388.8 782.3 L391.8 780.6 L395.4 782.3 L398.4 781.9 L401.4 780.6 L403.4 780 L406.9 781.6 L410.3 779.1 L413.8 776.6 L417.2 775.1 L420.5 773.3 L423 775.6 L425.9 772.8 L429.9 771.6 L433.3 773.3 L436.8 773.9 L440.8 775.1 L443.7 772.2 L447.1 773.3 L450.6 772.2 L454 772.8 L457.5 773.6 L459.8 774.5 L462.6 771.6 L466.7 772.2 L470.1 773.3 L472.4 775.6 L475.3 770.1 L477.1 777.1 L478.9 773.1 L482.9 772.3 L487.5 771.9 L492.1 773.1 L496.1 772.3 L499 773.4 L501.3 771.1 L504.2 772.7 L506.5 771.3 L510.5 774.6 L513.9 773.6 L516.8 773.1 L519.7 775.4 L523.1 774.8 L527.1 775 L531.2 772.3 L534.6 772.5 L538.6 773.4 L542.7 772.3 L547.3 772.5 L550.7 776.5 L552.3 776.9 L555.7 776.2 L559.2 773.9 L562.1 774.6 L564.9 773.1 L567.8 771.1 L571.3 768.1 L573 768.8 L574.7 772.3 L577.4 767.3 L579.9 769.3 L582.8 771.9 L585.4 769.3 L587.9 771.9 L590.8 768.8 L593.1 767.7 L596 768.1 L600.6 768.5 L603.4 766.5 L606.3 770 L608.6 768.5 L612.6 767.7 L614.9 768.5 L616.9 770.8 L619.5 768.8 L621.8 769.3" fill="none" stroke="#FDE725" stroke-width="0.75" stroke-linejoin="round" stroke-linecap="round" />
<path d="M72 761.3 L74.5 760.6 L77 759.6 L80.1 755.1 L82.6 755.3 L86.1 752.9 L88.1 753.3 L91.1 756.1 L93.6 757.6 L96.1 762.6 L98.7 763.1 L101.2 761.6 L105.2 758.6 L108.7 756.3 L111.2 758.1 L114.3 761.9 L116.8 762.3 L119.3 763.9 L121.8 765.2 L124.8 762.1 L128.3 763.3 L132.4 761.9 L135.4 763.6 L140 768.2 L143.4 764.5 L145.2 764.5 L147.8 766.6 L150.3 770.1 L152.9 772.7 L155.5 773.5 L158.1 774.7 L161.1 777 L163.3 775.5 L165.9 775.3 L168.4 776.6 L171 777.6 L174.1 778.7 L177.1 780.4 L179.7 780.4 L182.2 778.7 L184.8 775.7 L188.3 775.3 L191.7 775.3 L195.2 775 L198 774.4 L200.6 772.7 L203.2 772.5 L205.8 772 L208.3 771.4 L210.9 771.1 L213.5 771.4 L216.1 770.5 L218.7 769 L220.8 770.5 L223.9 772 L226.4 772.2 L229 773.3 L231.6 772.8 L234.2 772.2 L236.8 770.5 L239.4 769.6 L242 768.8 L243.7 768.5 L246.3 770.1 L248.9 772 L251.4 773.5 L254 774 L256.6 772 L259.2 770.8 L262.6 770.5 L266.1 770.5 L269.1 770.2 L271.7 770.5 L274.3 771.8 L276.8 773.3 L279.9 773.7 L282.4 774.4 L285 774.6 L287.6 775.7 L290.2 778.5 L292.8 779.6 L295.4 778.7 L298 777.4 L300.6 775.7 L303.1 775.7 L305.7 775.1 L307.9 773.3" fill="none" stroke="#440154" stroke-width="0.75" stroke-linejoin="round" stroke-linecap="round" />
<path d="M336.5 776.1 L340 776.3 L344.1 776.1 L347.1 776.6 L350.1 777.9 L354.1 778.9 L358.1 780.3 L361.2 780.6 L364.2 778.6 L366.2 778.1 L368.7 779.6 L370.7 781.1 L373.7 778.9 L377.2 779.1 L381.3 779.9 L385.3 779.1 L389.3 778.1 L391.8 779.1 L394.3 777.3 L396.9 778.3 L400.4 777.3 L403.4 776.2 L407.5 778.9 L411.5 772.2 L416.1 768.5 L420.1 767 L424.1 765.3 L428.7 763.2 L431.6 764.1 L435.6 765.1 L440.2 765.5 L444.8 762.4 L448.9 761.3 L454.6 760.1 L458.6 761.3 L464.4 762.1 L468.4 763.6 L471.8 764.4 L475.9 761.6 L480.6 760.4 L484 761.6 L487.5 763.3 L492.1 764.7 L495.5 763.3 L499 763.1 L502.4 761.6 L506.5 763.9 L510.5 763.9 L513.9 765.4 L517.4 763.5 L520.3 765.4 L524.3 767.3 L528.9 765.4 L533.5 764.7 L536.9 765.4 L540.9 766.2 L545 765.4 L548.4 763.9 L551.3 763.3 L553.6 768.5 L555.7 769.3 L558.6 767.3 L561.5 766.2 L564.9 765 L568.4 762.1 L571.3 759.8 L574.1 759.3 L577.6 758.7 L579.9 758.9 L583.3 760.4 L585.6 761.6 L589.1 761 L592.5 760.1 L596 758.5 L598.3 758.9 L601.1 760.4 L604 759.3 L606.3 758.7 L609.2 757.5 L612.1 757.8 L614.4 758.5 L616.7 757.5 L619.5 760.1 L621.8 759.3" fill="none" stroke="#440154" stroke-width="0.75" stroke-linejoin="round" stroke-linecap="round" />
<path d="M72 753.6 L74.5 752.6 L77.5 747.6 L80.1 743.5 L82.6 745.2 L85.1 744.2 L88.1 746.5 L90.6 744.2 L93.1 750.6 L96.1 758.6 L98.7 754.1 L101.2 751.1 L103.7 753.6 L106.2 743.5 L108.7 745 L111.2 751.1 L114.3 755.1 L117.3 756.1 L119.8 755.6 L122.3 751.6 L124.8 753.1 L127.3 759.6 L129.8 752.1 L132.4 751.6 L134.9 758.1 L137.4 760.3 L140 760.2 L143 758.9 L144.7 759.7 L146.9 762.8 L148.6 765.3 L150.8 767.5 L153.4 771 L155.1 770.5 L156.4 771 L158.1 773.5 L159.8 774.4 L162 773.1 L163.7 772.1 L165 773.1 L166.7 774.4 L169.3 772.1 L171.5 776.1 L174.5 778.3 L177.1 779.4 L179.7 779.6 L181.4 777 L183.1 774.8 L185.7 773.1 L187.4 772.7 L189.1 773.3 L191.7 773.5 L195.2 773.5 L198 771.4 L200.6 769.2 L203.2 769.9 L205.8 769.6 L208.3 768.8 L210.9 770.5 L213.5 769.2 L216.5 767.3 L218.7 767.7 L221.3 770.1 L223.9 769.4 L226 771.1 L228.6 771.6 L231.2 770.8 L234.2 769.2 L237.2 766.6 L240.2 766.2 L242.4 765.9 L244.6 767.3 L247.1 769.6 L249.7 772 L252.3 772.5 L254 771.4 L256.2 770.1 L258.7 768.5 L261.8 768.8 L265.2 768.8 L268.2 768.3 L270.8 767.5 L272.5 769.2 L274.7 770.9 L277.3 772.2 L279.9 773.3 L282.4 774.2 L285 774.4 L287.2 775.2 L289.3 777.4 L291.9 778.9 L294.1 777.4 L296.7 776.1 L298.4 774.8 L300.1 773.5 L301.8 774.4 L304 774.4 L305.7 772.8 L307.9 771.1" fill="none" stroke="#21908C" stroke-width="0.75" stroke-linejoin="round" stroke-linecap="round" />
<path d="M336.5 775.9 L338.5 774.3 L341.5 774.6 L344.1 772.6 L346.6 775.1 L349.6 777.3 L352.6 777.6 L355.1 778.1 L358.6 779.6 L360.7 779.1 L363.2 776.3 L365.7 776.6 L368.2 778.6 L370.7 781.1 L373.2 778.6 L375.7 777.6 L378.8 777.9 L381.3 778.3 L383.8 778.1 L386.3 776.1 L388.8 776.6 L391.3 775.6 L393.8 774.1 L396.4 776.6 L399.4 773.6 L402.3 772.2 L404.6 771.3 L407.5 774.5 L409.8 770.1 L412.6 767 L415.5 764.1 L418.4 761.6 L421.3 761.8 L424.1 760.5 L427.6 758.2 L429.9 757.2 L432.8 758.4 L435.1 758.6 L437.9 756.1 L440.8 757.5 L443.7 753.6 L446 754.7 L449.4 750.6 L451.7 752.4 L454.6 747.1 L456.9 753.2 L459.8 753.6 L463.2 753.6 L465.5 754.9 L467.6 758.2 L470.1 754.4 L472.4 756.7 L475.9 751.5 L480 750.1 L482.9 751.8 L485.8 753.9 L488.1 753.5 L490.9 755.5 L493.5 750.1 L495.5 752.4 L498.4 754.3 L501.3 752.9 L504.2 756.2 L507 756.4 L509.3 755.2 L512.8 757.3 L515.7 755 L517.1 753.2 L519.7 760.1 L522 756.2 L525.4 757.3 L528.9 757.3 L532.3 756.2 L536.3 757 L540.9 758.7 L543.8 755.8 L548.4 752.9 L551.3 758.1 L554 761.9 L556.3 758.9 L558.6 760.4 L561.5 760.1 L564.4 756.4 L567.2 752.7 L569.5 751.6 L571.8 751.6 L574.7 748.9 L577.4 747.2 L579.9 748.6 L582.8 751.2 L585.4 748.3 L587.9 749.7 L590.8 751.6 L593.1 751.2 L595.7 749.5 L598.3 751.6 L601.1 749.5 L604 747 L606.3 745.5 L609.2 747 L611.5 748.6 L614.4 747.4 L619 747.4 L620.7 750.4 L621.8 752.9" fill="none" stroke="#21908C" stroke-width="0.75" stroke-linejoin="round" stroke-linecap="round" />
<g fill="none" stroke="#000" stroke-width="0.9">
<circle cx="72.5" cy="813.5" r="1.9"/>
<circle cx="75.1" cy="811.1" r="1.9"/>
<circle cx="77.7" cy="813.5" r="1.9"/>
<circle cx="80.1" cy="816.1" r="1.9"/>
<circle cx="82.7" cy="813.5" r="1.9"/>
<circle cx="85.1" cy="811.5" r="1.9"/>
<circle cx="88.2" cy="808.7" r="1.9"/>
<circle cx="90.6" cy="808.7" r="1.9"/>
<circle cx="93.2" cy="808.7" r="1.9"/>
<circle cx="95.8" cy="804.1" r="1.9"/>
<circle cx="98.6" cy="806.5" r="1.9"/>
<circle cx="101.2" cy="806.5" r="1.9"/>
<circle cx="103.9" cy="804.1" r="1.9"/>
<circle cx="106.3" cy="811.1" r="1.9"/>
<circle cx="108.9" cy="806.5" r="1.9"/>
<circle cx="111.7" cy="804.1" r="1.9"/>
<circle cx="113.9" cy="806.5" r="1.9"/>
<circle cx="116.9" cy="806.5" r="1.9"/>
<circle cx="119.3" cy="804.1" r="1.9"/>
<circle cx="122" cy="799.4" r="1.9"/>
<circle cx="124.6" cy="799.4" r="1.9"/>
<circle cx="127" cy="806.5" r="1.9"/>
<circle cx="129.8" cy="806.5" r="1.9"/>
<circle cx="132.4" cy="804.1" r="1.9"/>
<circle cx="135" cy="801.7" r="1.9"/>
<circle cx="137.6" cy="801.7" r="1.9"/>
<circle cx="140.3" cy="806.5" r="1.9"/>
<circle cx="142.7" cy="808.9" r="1.9"/>
<circle cx="145.3" cy="808.9" r="1.9"/>
<circle cx="147.9" cy="808.9" r="1.9"/>
<circle cx="150.7" cy="806.5" r="1.9"/>
<circle cx="153.1" cy="811.1" r="1.9"/>
<circle cx="156" cy="813.5" r="1.9"/>
<circle cx="158.6" cy="818.2" r="1.9"/>
<circle cx="161.4" cy="825" r="1.9"/>
<circle cx="163.8" cy="827.6" r="1.9"/>
<circle cx="166.6" cy="825" r="1.9"/>
<circle cx="169.2" cy="820.4" r="1.9"/>
<circle cx="171.8" cy="818.2" r="1.9"/>
<circle cx="174.5" cy="815.7" r="1.9"/>
<circle cx="177.1" cy="804.1" r="1.9"/>
<circle cx="179.7" cy="799.4" r="1.9"/>
<circle cx="182.1" cy="845.9" r="1.9"/>
<circle cx="184.9" cy="848.7" r="1.9"/>
<circle cx="187.3" cy="841.3" r="1.9"/>
<circle cx="190" cy="841.3" r="1.9"/>
<circle cx="192.6" cy="841.3" r="1.9"/>
<circle cx="195.4" cy="845.9" r="1.9"/>
<circle cx="198" cy="848.7" r="1.9"/>
<circle cx="200.7" cy="848.7" r="1.9"/>
<circle cx="203.3" cy="845.9" r="1.9"/>
<circle cx="205.9" cy="845.9" r="1.9"/>
<circle cx="208.5" cy="845.9" r="1.9"/>
<circle cx="211.1" cy="845.9" r="1.9"/>
<circle cx="213.7" cy="843.7" r="1.9"/>
<circle cx="216.4" cy="845.9" r="1.9"/>
<circle cx="219" cy="843.7" r="1.9"/>
<circle cx="221.6" cy="843.7" r="1.9"/>
<circle cx="224.2" cy="841.3" r="1.9"/>
<circle cx="226.8" cy="843.7" r="1.9"/>
<circle cx="229.4" cy="838.9" r="1.9"/>
<circle cx="232" cy="841.3" r="1.9"/>
<circle cx="234.7" cy="843.7" r="1.9"/>
<circle cx="237.3" cy="843.7" r="1.9"/>
<circle cx="239.9" cy="841.3" r="1.9"/>
<circle cx="242.5" cy="838.9" r="1.9"/>
<circle cx="244.9" cy="836.7" r="1.9"/>
<circle cx="247.5" cy="836.7" r="1.9"/>
<circle cx="250.1" cy="838.9" r="1.9"/>
<circle cx="252.8" cy="838.9" r="1.9"/>
<circle cx="255.4" cy="838.9" r="1.9"/>
<circle cx="258" cy="841.3" r="1.9"/>
<circle cx="260.6" cy="838.9" r="1.9"/>
<circle cx="263.2" cy="838.9" r="1.9"/>
<circle cx="265.8" cy="841.3" r="1.9"/>
<circle cx="268.5" cy="841.3" r="1.9"/>
<circle cx="271.1" cy="838.9" r="1.9"/>
<circle cx="273.7" cy="838.9" r="1.9"/>
<circle cx="276.3" cy="838.9" r="1.9"/>
<circle cx="278.9" cy="838.9" r="1.9"/>
<circle cx="281.5" cy="841.3" r="1.9"/>
<circle cx="284.1" cy="841.3" r="1.9"/>
<circle cx="286.8" cy="841.3" r="1.9"/>
<circle cx="289.4" cy="836.7" r="1.9"/>
<circle cx="292.2" cy="853.4" r="1.9"/>
<circle cx="294.6" cy="848.7" r="1.9"/>
<circle cx="297.2" cy="848.7" r="1.9"/>
<circle cx="299.8" cy="848.7" r="1.9"/>
<circle cx="302.5" cy="845.9" r="1.9"/>
<circle cx="305.1" cy="845.9" r="1.9"/>
<circle cx="307.7" cy="845.9" r="1.9"/>
<circle cx="323.7" cy="845.9" r="1.9"/>
<circle cx="336.7" cy="850.7" r="1.9"/>
<circle cx="339.3" cy="848.3" r="1.9"/>
<circle cx="341.9" cy="848.3" r="1.9"/>
<circle cx="344.5" cy="862.4" r="1.9"/>
<circle cx="347.2" cy="862.4" r="1.9"/>
<circle cx="349.8" cy="871.9" r="1.9"/>
<circle cx="352.4" cy="867" r="1.9"/>
<circle cx="355" cy="848.3" r="1.9"/>
<circle cx="357.6" cy="801.7" r="1.9"/>
<circle cx="360.2" cy="864.8" r="1.9"/>
<circle cx="362.8" cy="855.4" r="1.9"/>
<circle cx="365.5" cy="855.4" r="1.9"/>
<circle cx="368.1" cy="862.4" r="1.9"/>
<circle cx="370.7" cy="864.8" r="1.9"/>
<circle cx="373.3" cy="864.8" r="1.9"/>
<circle cx="375.9" cy="857.8" r="1.9"/>
<circle cx="378.5" cy="853" r="1.9"/>
<circle cx="381.2" cy="857.8" r="1.9"/>
<circle cx="383.8" cy="824.8" r="1.9"/>
<circle cx="386.4" cy="855.4" r="1.9"/>
<circle cx="389" cy="853" r="1.9"/>
<circle cx="391.6" cy="853" r="1.9"/>
<circle cx="394.2" cy="850.7" r="1.9"/>
<circle cx="396.8" cy="848.3" r="1.9"/>
<circle cx="399.5" cy="848.3" r="1.9"/>
<circle cx="402.1" cy="850.7" r="1.9"/>
<circle cx="404.7" cy="855.4" r="1.9"/>
<circle cx="407.3" cy="848.3" r="1.9"/>
<circle cx="409.9" cy="845.9" r="1.9"/>
<circle cx="412.5" cy="845.9" r="1.9"/>
<circle cx="415.2" cy="845.9" r="1.9"/>
<circle cx="417.8" cy="845.9" r="1.9"/>
<circle cx="420.4" cy="845.9" r="1.9"/>
<circle cx="423" cy="848.3" r="1.9"/>
<circle cx="425.6" cy="845.9" r="1.9"/>
<circle cx="428.2" cy="845.9" r="1.9"/>
<circle cx="430.8" cy="848.3" r="1.9"/>
<circle cx="433.5" cy="841.3" r="1.9"/>
<circle cx="436.1" cy="843.7" r="1.9"/>
<circle cx="438.7" cy="845.9" r="1.9"/>
<circle cx="441.3" cy="848.3" r="1.9"/>
<circle cx="443.9" cy="843.7" r="1.9"/>
<circle cx="446.5" cy="848.3" r="1.9"/>
<circle cx="449.1" cy="848.3" r="1.9"/>
<circle cx="451.8" cy="848.3" r="1.9"/>
<circle cx="454.4" cy="845.9" r="1.9"/>
<circle cx="457" cy="845.9" r="1.9"/>
<circle cx="459.6" cy="848.3" r="1.9"/>
<circle cx="462.2" cy="845.9" r="1.9"/>
<circle cx="464.9" cy="843.7" r="1.9"/>
<circle cx="467.5" cy="848.3" r="1.9"/>
<circle cx="470.1" cy="845.9" r="1.9"/>
<circle cx="472.7" cy="848.3" r="1.9"/>
<circle cx="475.3" cy="841.3" r="1.9"/>
<circle cx="477.9" cy="845.9" r="1.9"/>
<circle cx="480.5" cy="850.7" r="1.9"/>
<circle cx="483.2" cy="845.9" r="1.9"/>
<circle cx="485.8" cy="845.9" r="1.9"/>
<circle cx="488.4" cy="845.9" r="1.9"/>
<circle cx="491" cy="845.9" r="1.9"/>
<circle cx="493.6" cy="845.9" r="1.9"/>
<circle cx="496.2" cy="848.3" r="1.9"/>
<circle cx="498.9" cy="845.9" r="1.9"/>
<circle cx="501.5" cy="843.7" r="1.9"/>
<circle cx="504.1" cy="845.9" r="1.9"/>
<circle cx="506.7" cy="845.9" r="1.9"/>
<circle cx="509.3" cy="845.9" r="1.9"/>
<circle cx="511.9" cy="845.9" r="1.9"/>
<circle cx="514.5" cy="848.3" r="1.9"/>
<circle cx="517.2" cy="848.3" r="1.9"/>
<circle cx="519.8" cy="845.9" r="1.9"/>
<circle cx="522.4" cy="848.3" r="1.9"/>
<circle cx="525" cy="853" r="1.9"/>
<circle cx="527.6" cy="853" r="1.9"/>
<circle cx="530.2" cy="853" r="1.9"/>
<circle cx="532.9" cy="853" r="1.9"/>
<circle cx="535.5" cy="853" r="1.9"/>
<circle cx="538.1" cy="853" r="1.9"/>
<circle cx="540.7" cy="850.7" r="1.9"/>
<circle cx="543.3" cy="855.4" r="1.9"/>
<circle cx="545.9" cy="853" r="1.9"/>
<circle cx="548.5" cy="853" r="1.9"/>
<circle cx="551.2" cy="850.7" r="1.9"/>
<circle cx="553.8" cy="853" r="1.9"/>
<circle cx="556.4" cy="853" r="1.9"/>
<circle cx="559" cy="855.4" r="1.9"/>
<circle cx="561.6" cy="857.8" r="1.9"/>
<circle cx="564.2" cy="853" r="1.9"/>
<circle cx="566.8" cy="853" r="1.9"/>
<circle cx="569.5" cy="848.3" r="1.9"/>
<circle cx="572.1" cy="848.3" r="1.9"/>
<circle cx="574.7" cy="853" r="1.9"/>
<circle cx="577.3" cy="850.7" r="1.9"/>
<circle cx="579.9" cy="848.3" r="1.9"/>
<circle cx="582.6" cy="850.6" r="1.9"/>
<circle cx="585.2" cy="845.9" r="1.9"/>
<circle cx="587.9" cy="845.9" r="1.9"/>
<circle cx="590.3" cy="848.4" r="1.9"/>
<circle cx="592.9" cy="850.6" r="1.9"/>
<circle cx="595.5" cy="848.4" r="1.9"/>
<circle cx="598.1" cy="848.4" r="1.9"/>
<circle cx="600.7" cy="848.4" r="1.9"/>
<circle cx="603.3" cy="848.4" r="1.9"/>
<circle cx="605.9" cy="848.4" r="1.9"/>
<circle cx="608.4" cy="845.9" r="1.9"/>
<circle cx="611" cy="845.9" r="1.9"/>
<circle cx="613.6" cy="845.9" r="1.9"/>
<circle cx="616.2" cy="848.4" r="1.9"/>
<circle cx="618.8" cy="848.4" r="1.9"/>
<circle cx="621.8" cy="845.9" r="1.9"/>
</g>
<g fill="none" stroke="#000" stroke-width="0.75">
<rect x="47.5" y="47.5" width="610.5" height="179"/>
<rect x="47.5" y="247.5" width="610.5" height="68.3"/>
<rect x="47.5" y="317.2" width="610.5" height="103.9"/>
<rect x="47.5" y="423" width="610.5" height="103.5"/>
<rect x="47.5" y="528.5" width="610.5" height="68"/>
<rect x="47.5" y="598.5" width="610.5" height="191"/>
<rect x="47.5" y="791.5" width="610.5" height="91"/>
<line x1="47.5" y1="57.4" x2="47.5" y2="221"/>
<line x1="42.3" y1="57.4" x2="47.5" y2="57.4"/>
<line x1="42.3" y1="80.8" x2="47.5" y2="80.8"/>
<line x1="42.3" y1="104.2" x2="47.5" y2="104.2"/>
<line x1="42.3" y1="127.6" x2="47.5" y2="127.6"/>
<line x1="42.3" y1="150.9" x2="47.5" y2="150.9"/>
<line x1="42.3" y1="174.2" x2="47.5" y2="174.2"/>
<line x1="42.3" y1="197.6" x2="47.5" y2="197.6"/>
<line x1="42.3" y1="221" x2="47.5" y2="221"/>
<line x1="47.5" y1="253.1" x2="47.5" y2="313.5"/>
<line x1="42.3" y1="253.1" x2="47.5" y2="253.1"/>
<line x1="42.3" y1="265.2" x2="47.5" y2="265.2"/>
<line x1="42.3" y1="277.3" x2="47.5" y2="277.3"/>
<line x1="42.3" y1="289.4" x2="47.5" y2="289.4"/>
<line x1="42.3" y1="301.4" x2="47.5" y2="301.4"/>
<line x1="42.3" y1="313.5" x2="47.5" y2="313.5"/>
<line x1="47.5" y1="321.3" x2="47.5" y2="417.1"/>
<line x1="42.3" y1="321.3" x2="47.5" y2="321.3"/>
<line x1="42.3" y1="340.5" x2="47.5" y2="340.5"/>
<line x1="42.3" y1="359.6" x2="47.5" y2="359.6"/>
<line x1="42.3" y1="378.8" x2="47.5" y2="378.8"/>
<line x1="42.3" y1="398" x2="47.5" y2="398"/>
<line x1="42.3" y1="417.1" x2="47.5" y2="417.1"/>
<line x1="47.5" y1="426.5" x2="47.5" y2="522"/>
<line x1="42.3" y1="426.5" x2="47.5" y2="426.5"/>
<line x1="42.3" y1="450.3" x2="47.5" y2="450.3"/>
<line x1="42.3" y1="474.2" x2="47.5" y2="474.2"/>
<line x1="42.3" y1="498.1" x2="47.5" y2="498.1"/>
<line x1="42.3" y1="522" x2="47.5" y2="522"/>
<line x1="47.5" y1="536.3" x2="47.5" y2="583.4"/>
<line x1="42.3" y1="536.3" x2="47.5" y2="536.3"/>
<line x1="42.3" y1="552" x2="47.5" y2="552"/>
<line x1="42.3" y1="567.7" x2="47.5" y2="567.7"/>
<line x1="42.3" y1="583.4" x2="47.5" y2="583.4"/>
<line x1="47.5" y1="605.1" x2="47.5" y2="782.5"/>
<line x1="42.3" y1="605.1" x2="47.5" y2="605.1"/>
<line x1="42.3" y1="634.7" x2="47.5" y2="634.7"/>
<line x1="42.3" y1="664.2" x2="47.5" y2="664.2"/>
<line x1="42.3" y1="693.8" x2="47.5" y2="693.8"/>
<line x1="42.3" y1="723.4" x2="47.5" y2="723.4"/>
<line x1="42.3" y1="752.9" x2="47.5" y2="752.9"/>
<line x1="42.3" y1="782.5" x2="47.5" y2="782.5"/>
<line x1="47.5" y1="797.4" x2="47.5" y2="879.3"/>
<line x1="42.3" y1="797.4" x2="47.5" y2="797.4"/>
<line x1="42.3" y1="809.1" x2="47.5" y2="809.1"/>
<line x1="42.3" y1="820.8" x2="47.5" y2="820.8"/>
<line x1="42.3" y1="832.5" x2="47.5" y2="832.5"/>
<line x1="42.3" y1="844.2" x2="47.5" y2="844.2"/>
<line x1="42.3" y1="855.9" x2="47.5" y2="855.9"/>
<line x1="42.3" y1="867.6" x2="47.5" y2="867.6"/>
<line x1="42.3" y1="879.3" x2="47.5" y2="879.3"/>
<line x1="59.5" y1="226.5" x2="593.3" y2="226.5"/>
<line x1="59.5" y1="226.5" x2="59.5" y2="231.7"/>
<line x1="90.9" y1="226.5" x2="90.9" y2="231.7"/>
<line x1="122.3" y1="226.5" x2="122.3" y2="231.7"/>
<line x1="153.7" y1="226.5" x2="153.7" y2="231.7"/>
<line x1="185.1" y1="226.5" x2="185.1" y2="231.7"/>
<line x1="216.5" y1="226.5" x2="216.5" y2="231.7"/>
<line x1="247.9" y1="226.5" x2="247.9" y2="231.7"/>
<line x1="279.3" y1="226.5" x2="279.3" y2="231.7"/>
<line x1="310.7" y1="226.5" x2="310.7" y2="231.7"/>
<line x1="342.1" y1="226.5" x2="342.1" y2="231.7"/>
<line x1="373.5" y1="226.5" x2="373.5" y2="231.7"/>
<line x1="404.9" y1="226.5" x2="404.9" y2="231.7"/>
<line x1="436.3" y1="226.5" x2="436.3" y2="231.7"/>
<line x1="467.7" y1="226.5" x2="467.7" y2="231.7"/>
<line x1="499.1" y1="226.5" x2="499.1" y2="231.7"/>
<line x1="530.5" y1="226.5" x2="530.5" y2="231.7"/>
<line x1="561.9" y1="226.5" x2="561.9" y2="231.7"/>
<line x1="593.3" y1="226.5" x2="593.3" y2="231.7"/>
<line x1="59.5" y1="882.5" x2="593.3" y2="882.5"/>
<line x1="59.5" y1="882.5" x2="59.5" y2="887.7"/>
<line x1="90.9" y1="882.5" x2="90.9" y2="887.7"/>
<line x1="122.3" y1="882.5" x2="122.3" y2="887.7"/>
<line x1="153.7" y1="882.5" x2="153.7" y2="887.7"/>
<line x1="185.1" y1="882.5" x2="185.1" y2="887.7"/>
<line x1="216.5" y1="882.5" x2="216.5" y2="887.7"/>
<line x1="247.9" y1="882.5" x2="247.9" y2="887.7"/>
<line x1="279.3" y1="882.5" x2="279.3" y2="887.7"/>
<line x1="310.7" y1="882.5" x2="310.7" y2="887.7"/>
<line x1="342.1" y1="882.5" x2="342.1" y2="887.7"/>
<line x1="373.5" y1="882.5" x2="373.5" y2="887.7"/>
<line x1="404.9" y1="882.5" x2="404.9" y2="887.7"/>
<line x1="436.3" y1="882.5" x2="436.3" y2="887.7"/>
<line x1="467.7" y1="882.5" x2="467.7" y2="887.7"/>
<line x1="499.1" y1="882.5" x2="499.1" y2="887.7"/>
<line x1="530.5" y1="882.5" x2="530.5" y2="887.7"/>
<line x1="561.9" y1="882.5" x2="561.9" y2="887.7"/>
<line x1="593.3" y1="882.5" x2="593.3" y2="887.7"/>
</g>
<text x="36" y="80.8" font-size="12" text-anchor="middle" transform="rotate(-90 36 80.8)" >10</text>
<text x="36" y="104.2" font-size="12" text-anchor="middle" transform="rotate(-90 36 104.2)" >8</text>
<text x="36" y="127.6" font-size="12" text-anchor="middle" transform="rotate(-90 36 127.6)" >6</text>
<text x="36" y="150.9" font-size="12" text-anchor="middle" transform="rotate(-90 36 150.9)" >4</text>
<text x="36" y="174.2" font-size="12" text-anchor="middle" transform="rotate(-90 36 174.2)" >2</text>
<text x="36" y="197.6" font-size="12" text-anchor="middle" transform="rotate(-90 36 197.6)" >0</text>
<text x="36" y="221" font-size="12" text-anchor="middle" transform="rotate(-90 36 221)" >-2</text>
<text x="36" y="265.2" font-size="12" text-anchor="middle" transform="rotate(-90 36 265.2)" >80</text>
<text x="36" y="289.4" font-size="12" text-anchor="middle" transform="rotate(-90 36 289.4)" >40</text>
<text x="36" y="313.5" font-size="12" text-anchor="middle" transform="rotate(-90 36 313.5)" >0</text>
<text x="36" y="340.5" font-size="12" text-anchor="middle" transform="rotate(-90 36 340.5)" >8</text>
<text x="36" y="359.6" font-size="12" text-anchor="middle" transform="rotate(-90 36 359.6)" >6</text>
<text x="36" y="378.8" font-size="12" text-anchor="middle" transform="rotate(-90 36 378.8)" >4</text>
<text x="36" y="398" font-size="12" text-anchor="middle" transform="rotate(-90 36 398)" >2</text>
<text x="36" y="417.1" font-size="12" text-anchor="middle" transform="rotate(-90 36 417.1)" >0</text>
<text x="36" y="426.5" font-size="12" text-anchor="middle" transform="rotate(-90 36 426.5)" >2.0</text>
<text x="36" y="474.2" font-size="12" text-anchor="middle" transform="rotate(-90 36 474.2)" >1.0</text>
<text x="36" y="522" font-size="12" text-anchor="middle" transform="rotate(-90 36 522)" >0.0</text>
<text x="36" y="536.3" font-size="12" text-anchor="middle" transform="rotate(-90 36 536.3)" >1010</text>
<text x="36" y="583.4" font-size="12" text-anchor="middle" transform="rotate(-90 36 583.4)" >1007</text>
<text x="36" y="605.1" font-size="12" text-anchor="middle" transform="rotate(-90 36 605.1)" >30</text>
<text x="36" y="634.7" font-size="12" text-anchor="middle" transform="rotate(-90 36 634.7)" >25</text>
<text x="36" y="664.2" font-size="12" text-anchor="middle" transform="rotate(-90 36 664.2)" >20</text>
<text x="36" y="693.8" font-size="12" text-anchor="middle" transform="rotate(-90 36 693.8)" >15</text>
<text x="36" y="723.4" font-size="12" text-anchor="middle" transform="rotate(-90 36 723.4)" >10</text>
<text x="36" y="752.9" font-size="12" text-anchor="middle" transform="rotate(-90 36 752.9)" >5</text>
<text x="36" y="782.5" font-size="12" text-anchor="middle" transform="rotate(-90 36 782.5)" >0</text>
<text x="36" y="809.1" font-size="12" text-anchor="middle" transform="rotate(-90 36 809.1)" >300</text>
<text x="36" y="844.2" font-size="12" text-anchor="middle" transform="rotate(-90 36 844.2)" >150</text>
<text x="36" y="879.3" font-size="12" text-anchor="middle" transform="rotate(-90 36 879.3)" >0</text>
<text x="17.1" y="137" font-size="12" text-anchor="middle" transform="rotate(-90 17.1 137)" >°C</text>
<text x="17.1" y="281.65" font-size="12" text-anchor="middle" transform="rotate(-90 17.1 281.65)" >%</text>
<text x="17.1" y="369.15" font-size="12" text-anchor="middle" transform="rotate(-90 17.1 369.15)" >Minuten</text>
<text x="17.1" y="474.75" font-size="12" text-anchor="middle" transform="rotate(-90 17.1 474.75)" >mm</text>
<text x="17.1" y="562.5" font-size="12" text-anchor="middle" transform="rotate(-90 17.1 562.5)" >hPa</text>
<text x="17.1" y="694" font-size="12" text-anchor="middle" transform="rotate(-90 17.1 694)" >m/s</text>
<text x="17.1" y="837" font-size="12" text-anchor="middle" transform="rotate(-90 17.1 837)" >Grad</text>
<text x="59.5" y="243.8" font-size="12" text-anchor="middle" >Tue, 10:00</text>
<text x="59.5" y="899.6" font-size="12" text-anchor="middle" >Tue, 10:00</text>
<text x="153.7" y="243.8" font-size="12" text-anchor="middle" >Tue, 16:00</text>
<text x="153.7" y="899.6" font-size="12" text-anchor="middle" >Tue, 16:00</text>
<text x="247.9" y="243.8" font-size="12" text-anchor="middle" >Tue, 22:00</text>
<text x="247.9" y="899.6" font-size="12" text-anchor="middle" >Tue, 22:00</text>
<text x="342.1" y="243.8" font-size="12" text-anchor="middle" >Wed, 04:00</text>
<text x="342.1" y="899.6" font-size="12" text-anchor="middle" >Wed, 04:00</text>
<text x="436.3" y="243.8" font-size="12" text-anchor="middle" >Wed, 10:00</text>
<text x="436.3" y="899.6" font-size="12" text-anchor="middle" >Wed, 10:00</text>
<text x="530.5" y="243.8" font-size="12" text-anchor="middle" >Wed, 16:00</text>
<text x="530.5" y="899.6" font-size="12" text-anchor="middle" >Wed, 16:00</text>
<text x="47.9" y="23.7" font-size="19.2" font-weight="bold" >Berge</text>
<text x="352.6" y="23.5" font-size="19.2" text-anchor="middle" font-weight="bold" >25.02.2026</text>
<text x="47.9" y="39.8" font-size="14.2" font-weight="bold" textLength="241.2" lengthAdjust="spacingAndGlyphs" >52.6198 | 12.7867 | 41 (m) ü. NHN</text>
<text x="247.6" y="69.7" font-size="11.2" fill="#8B0000" text-anchor="middle" >7.9 °C</text>
<text x="247.9" y="83.4" font-size="11.2" fill="#00008B" text-anchor="middle" >2 °C</text>
<text x="311.1" y="69.7" font-size="11.2" fill="#8B0000" text-anchor="middle" >11.3 °C</text>
<text x="310.5" y="83.4" font-size="11.2" fill="#00008B" text-anchor="middle" >-0.8 °C</text>
<text x="652.3" y="133.8" font-size="14.4" fill="#FF0000" text-anchor="end" >4.9 °C</text>
<text x="652.3" y="178.7" font-size="14.4" fill="#0000FF" text-anchor="end" >3.1 °C</text>
<text x="645.8" y="271" font-size="14.4" fill="#00008B" text-anchor="end" >88 %</text>
<text x="641.8" y="375.3" font-size="14.4" fill="#FF8C00" text-anchor="end" >keine Sonnenscheindaten</text>
<text x="248.1" y="444.8" font-size="11.2" fill="#0000FF" text-anchor="middle" >2.7 mm</text>
<text x="310.5" y="444.8" font-size="11.2" fill="#0000FF" text-anchor="middle" >0 mm</text>
<text x="647.5" y="588.4" font-size="14.4" text-anchor="end" >NA hPa</text>
<text x="673.9" y="137" font-size="13" fill="#FF0000" text-anchor="middle" transform="rotate(-90 673.9 137)" >Lufttemperatur</text>
<text x="686" y="137" font-size="13" fill="#0000FF" text-anchor="middle" transform="rotate(-90 686 137)" >Taupunktstemperatur</text>
<text x="673.9" y="281.6" font-size="13" fill="#00008B" text-anchor="middle" transform="rotate(-90 673.9 281.6)" >Relative</text>
<text x="686" y="281.6" font-size="13" fill="#00008B" text-anchor="middle" transform="rotate(-90 686 281.6)" >Luftfeuchte</text>
<text x="673.9" y="369" font-size="13" fill="#FF8C00" text-anchor="middle" transform="rotate(-90 673.9 369)" >Sonnenschein-</text>
<text x="686" y="369" font-size="13" fill="#FF8C00" text-anchor="middle" transform="rotate(-90 686 369)" >dauer</text>
<text x="675.3" y="474.6" font-size="13" fill="#0000FF" text-anchor="middle" transform="rotate(-90 675.3 474.6)" >Niederschlag</text>
<text x="675.3" y="562.5" font-size="13" text-anchor="middle" transform="rotate(-90 675.3 562.5)" >Luftdruck</text>
<text x="673.9" y="694.6" font-size="13" text-anchor="middle" transform="rotate(-90 673.9 694.6)" >Windgeschwindigkeit</text>
<text x="686" y="790" font-size="12" fill="#FDE725" transform="rotate(-90 686 790)" >min Mittel</text>
<text x="686" y="722.8" font-size="12" fill="#440154" transform="rotate(-90 686 722.8)" >max Mittel</text>
<text x="686" y="653.6" font-size="12" fill="#21908C" transform="rotate(-90 686 653.6)" >max Böen</text>
<text x="675.5" y="837" font-size="13" text-anchor="middle" transform="rotate(-90 675.5 837)" >Windrichtung</text>
</svg></body></html>
